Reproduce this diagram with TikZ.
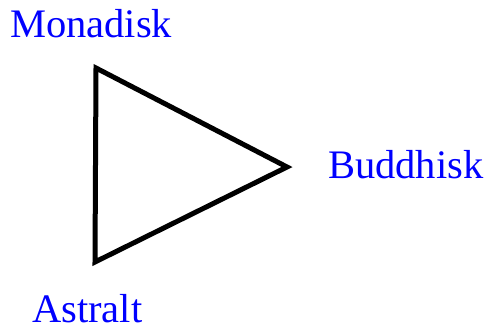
\documentclass[tikz,border=0pt]{standalone}
\usepackage{fontspec}
\setmainfont{Liberation Serif}
\usepackage{xcolor}
\usepackage{tikz}
\tikzstyle{planelabel} = [text=blue, font=\fontsize{40.5}{46}\selectfont, inner sep=0pt, anchor=base west]
\tikzstyle{tri} = [draw=black, line width=5pt]

\begin{document}
\begin{tikzpicture}[x=1pt, y=-1pt]
        \useasboundingbox (0,0) rectangle (486,326);
        \coordinate (monv) at (96,68);
        \coordinate (budv) at (287,167);
        \coordinate (astv) at (95,262);
        \draw [tri] (monv) -- (budv) -- (astv) -- cycle;
        \node [planelabel] (mon) at (10,38) {Monadisk};
        \node [planelabel] (bud) at (328,178) {Buddhisk};
        \node [planelabel] (ast) at (32,322) {Astralt};
    \end{tikzpicture}
\end{document}
